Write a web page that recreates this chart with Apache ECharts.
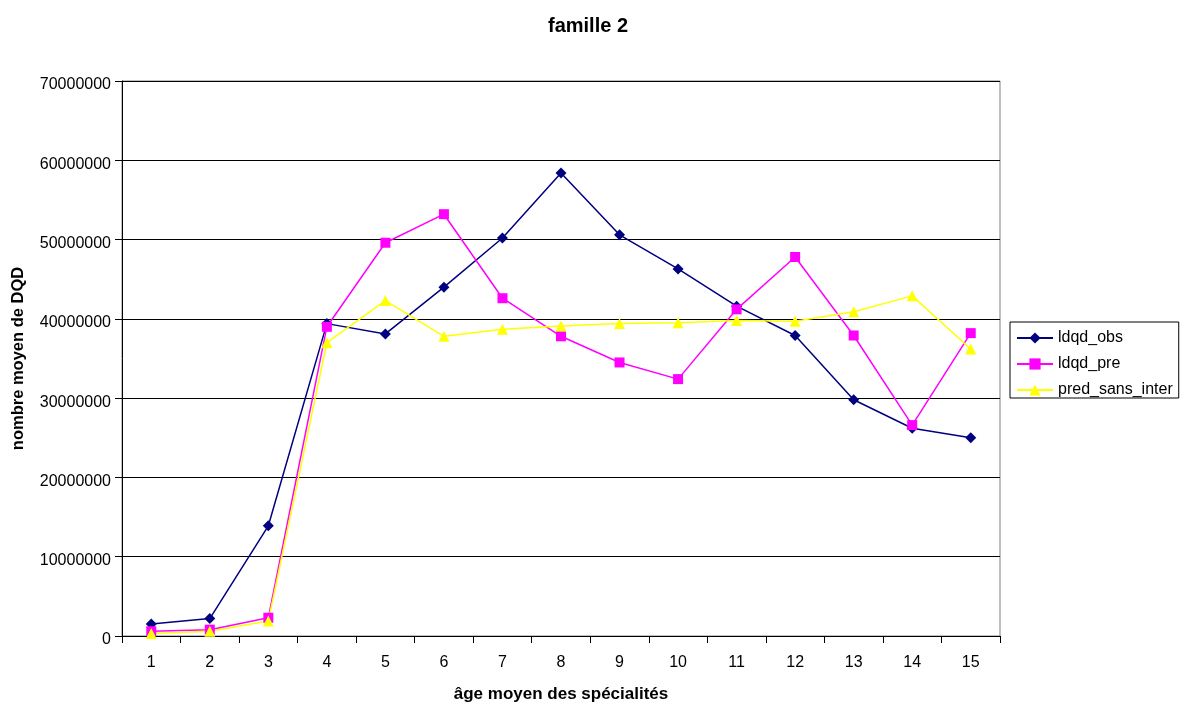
<!DOCTYPE html>
<html><head><meta charset="utf-8">
<script src="https://cdn.jsdelivr.net/npm/echarts@6/dist/echarts.min.js"></script>
<style>html,body{margin:0;padding:0;background:#fff}#c{width:1187px;height:708px}</style>
</head><body><div id="c"></div>
<script>
const categories = ['1','2','3','4','5','6','7','8','9','10','11','12','13','14','15'];
const ldqd_obs = [1500000, 2200000, 13900000, 39400000, 38100000, 44000000, 50200000, 58400000, 50600000, 46300000, 41600000, 37900000, 29800000, 26200000, 25000000];
const ldqd_pre = [600000, 800000, 2300000, 39000000, 49600000, 53200000, 42600000, 37800000, 34500000, 32400000, 41200000, 47800000, 37900000, 26600000, 38200000];
const pred_sans_inter = [300000, 600000, 1900000, 37000000, 42300000, 37800000, 38700000, 39100000, 39400000, 39500000, 39800000, 39700000, 40900000, 42900000, 36200000];

const chart = echarts.init(document.getElementById('c'));
const font = 'Liberation Sans, Arial, sans-serif';
chart.setOption({
  animation: false,
  backgroundColor: '#fff',
  textStyle: {fontFamily: font},
  title: {text: 'famille 2', left: 583, textAlign: 'center', top: 11,
    textStyle: {fontFamily: font, fontSize: 20, fontWeight: 'bold', color: '#000'}},
  grid: {left: 122, right: 187, top: 81, bottom: 69, show: true, borderColor: '#808080', borderWidth: 1, backgroundColor: '#fff'},
  legend: {orient: 'vertical', left: 1010, top: 322, itemGap: 10, itemWidth: 36, itemHeight: 14,
    padding: [8, 6, 0, 6], borderColor: '#000', borderWidth: 1, borderRadius: 0,
    textStyle: {fontFamily: font, fontSize: 16, color: '#000'},
    data: ['ldqd_obs', 'ldqd_pre', 'pred_sans_inter']},
  xAxis: {type: 'category', data: categories, boundaryGap: true,
    name: 'âge moyen des spécialités', nameLocation: 'middle', nameGap: 50,
    nameTextStyle: {fontFamily: font, fontSize: 17, fontWeight: 'bold', color: '#000'},
    axisLine: {lineStyle: {color: '#000', width: 1}},
    axisTick: {show: true, alignWithLabel: false, length: 7, lineStyle: {color: '#000'}},
    axisLabel: {color: '#000', fontSize: 16, margin: 19, fontFamily: font},
    splitLine: {show: false}},
  yAxis: {type: 'value', min: 0, max: 70000000, interval: 10000000,
    name: 'nombre moyen de DQD', nameLocation: 'middle', nameGap: 95,
    nameTextStyle: {fontFamily: font, fontSize: 16.5, fontWeight: 'bold', color: '#000'},
    axisLine: {show: true, lineStyle: {color: '#000', width: 1}},
    axisTick: {show: true, length: 7, lineStyle: {color: '#000'}},
    axisLabel: {color: '#000', fontSize: 16, margin: 11, fontFamily: font, verticalAlign: 'top', lineHeight: 8, formatter: v => String(v)},
    splitLine: {show: true, lineStyle: {color: '#000', width: 1}}},
  series: [
    {name: 'ldqd_obs', type: 'line', data: ldqd_obs, symbol: 'diamond', symbolSize: 11,
      itemStyle: {color: '#000080'}, lineStyle: {color: '#000080', width: 1.5}},
    {name: 'ldqd_pre', type: 'line', data: ldqd_pre, symbol: 'rect', symbolSize: 10,
      itemStyle: {color: '#ff00ff'}, lineStyle: {color: '#ff00ff', width: 1.5}},
    {name: 'pred_sans_inter', type: 'line', data: pred_sans_inter, symbol: 'triangle', symbolSize: 11,
      itemStyle: {color: '#ffff00'}, lineStyle: {color: '#ffff00', width: 1.5}}
  ]
});
</script></body></html>
